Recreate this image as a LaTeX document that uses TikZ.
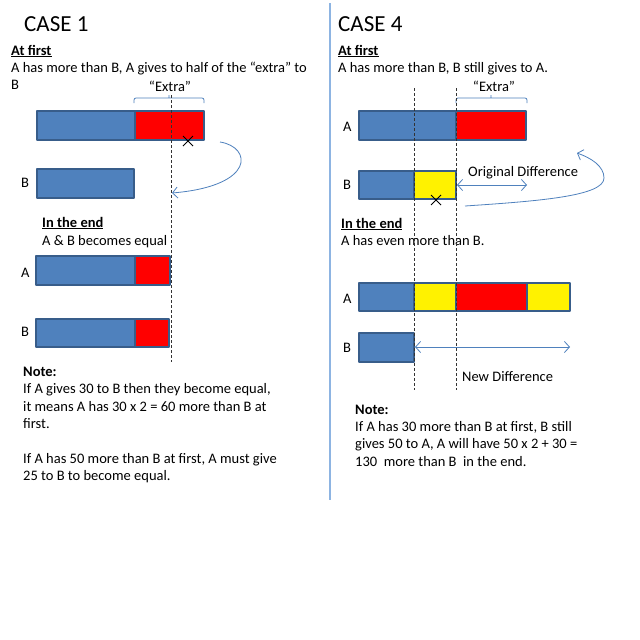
\documentclass[tikz,border=0pt]{standalone}
\usepackage{fontspec}
\setmainfont{Carlito}
\usetikzlibrary{arrows.meta}
\definecolor{barblue}{HTML}{4F81BD}
\definecolor{barline}{HTML}{385D8A}
\definecolor{divline}{HTML}{8DB4E2}
\tikzset{
  seg/.style={draw=barline,line width=2.5pt,line join=round},
  txt/.style={anchor=base west,inner sep=0pt,font=\fontsize{14.5}{17}\selectfont},
  head/.style={anchor=base west,inner sep=0pt,font=\fontsize{23}{27}\selectfont},
  guide/.style={dashed,dash pattern=on 3pt off 2pt,line width=0.9pt,black!80},
  conn/.style={draw=barblue,line width=0.8pt},
  tip/.style={-{Straight Barb[length=5pt,width=11pt]}},
  cross/.style={line width=0.8pt,black}
}
\begin{document}
\begin{tikzpicture}[x=1pt,y=-1pt]
	\useasboundingbox[fill=white] (0,0) rectangle (640,640);
	% divider
	\draw[divline,line width=1.5pt] (330,3)--(330,500);
	% CASE 1
	\node[head] (c1title) at (24,31) {CASE 1};
	\node[txt] (c1first) at (11,55) {\underline{\textbf{At first}}};
	\node[txt] (c1lineA) at (11,72) {A has more than B, A gives to half of the “extra” to};
	\node[txt] (c1lineB) at (11,89) {B};
	\node[txt,anchor=base] (c1extra) at (170,91) {“Extra”};
	\draw[conn,rounded corners=2pt] (134,103)--(134,98)--(204,98)--(204,103) (169,98)--(169,95);
	\draw[seg,fill=barblue] (37,111) rectangle (135,140);
	\draw[seg,fill=red] (135,111) rectangle (204,140);
	\node[txt] (c1B) at (21,187) {B};
	\draw[seg,fill=barblue] (37,169) rectangle (134,198);
	\node[txt] (c1end) at (42,227) {\underline{\textbf{In the end}}};
	\node[txt] (c1equal) at (42,245) {A \& B becomes equal};
	\node[txt] (c1A2) at (21,277) {A};
	\draw[seg,fill=barblue] (36,256) rectangle (135,285);
	\draw[seg,fill=red] (135,256) rectangle (170,285);
	\node[txt] (c1B2) at (21,336) {B};
	\draw[seg,fill=barblue] (36,319) rectangle (135,347);
	\draw[seg,fill=red] (135,319) rectangle (169,347);
	\draw[guide] (171,95)--(171,362);
	\draw[cross] (183,136)--(193,146) (183,146)--(193,136);
	\coordinate (giveA) at (220,142);
	\coordinate (getB) at (172,193);
	\draw[conn,tip] (giveA) .. controls (252,147) and (256,186) .. (getB);
	\node[txt] (c1note) at (23,376) {\textbf{Note:}};
	\node[txt] (c1n1) at (23,393) {If A gives 30 to B then they become equal,};
	\node[txt] (c1n2) at (23,411) {it means A has 30 x 2 = 60 more than B at};
	\node[txt] (c1n3) at (23,428) {first.};
	\node[txt] (c1n4) at (23,463) {If A has 50 more than B at first, A must give};
	\node[txt] (c1n5) at (23,480) {25 to B to become equal.};
	% CASE 4
	\node[head] (c4title) at (338,31) {CASE 4};
	\node[txt] (c4first) at (338,55) {\underline{\textbf{At first}}};
	\node[txt] (c4lineA) at (338,72) {A has more than B, B still gives to A.};
	\node[txt,anchor=base] (c4extra) at (494,91) {“Extra”};
	\draw[conn,rounded corners=2pt] (456,103)--(456,98)--(527,98)--(527,103) (491,98)--(491,95);
	\node[txt] (c4A) at (343,131) {A};
	\draw[seg,fill=barblue] (359,111) rectangle (456,140);
	\draw[seg,fill=red] (456,111) rectangle (526,140);
	\node[txt] (c4B) at (343,189) {B};
	\draw[seg,fill=barblue] (359,171) rectangle (414,199);
	\draw[seg,fill=yellow] (414,171) rectangle (456,199);
	\coordinate (od1) at (457,185);
	\coordinate (od2) at (527,185);
	\draw[conn,{Straight Barb[length=5pt,width=11pt]}-{Straight Barb[length=5pt,width=11pt]}] (od1)--(od2);
	\node[txt] (c4orig) at (468,176) {Original Difference};
	\coordinate (giveB) at (465,206);
	\coordinate (bend) at (604,178);
	\coordinate (getA) at (577,153);
	\draw[conn,tip] (giveB) .. controls (540,201) and (604,196) .. (bend) .. controls (604,166) and (591,158) .. (getA);
	\node[txt] (c4end) at (341,228) {\underline{\textbf{In the end}}};
	\node[txt] (c4more) at (341,245) {A has even more than B.};
	\node[txt] (c4A2) at (343,303) {A};
	\draw[seg,fill=barblue] (359,283) rectangle (414,311);
	\draw[seg,fill=yellow] (414,283) rectangle (456,311);
	\draw[seg,fill=red] (456,283) rectangle (527,311);
	\draw[seg,fill=yellow] (527,283) rectangle (570,311);
	\node[txt] (c4B2) at (343,352) {B};
	\draw[seg,fill=barblue] (359,333) rectangle (414,362);
	\draw[guide] (414,88)--(414,390) (456,88)--(456,390);
	\draw[cross] (431,195)--(441,205) (431,205)--(441,195);
	\coordinate (nd1) at (415,347);
	\coordinate (nd2) at (570,347);
	\draw[conn,{Straight Barb[length=5pt,width=11pt]}-{Straight Barb[length=5pt,width=11pt]}] (nd1)--(nd2);
	\node[txt] (c4new) at (462,381) {New Difference};
	\node[txt] (c4note) at (355,414) {\textbf{Note:}};
	\node[txt] (c4n1) at (355,431) {If A has 30 more than B at first, B still};
	\node[txt] (c4n2) at (355,448) {gives 50 to A, A will have 50 x 2 + 30 =};
	\node[txt] (c4n3) at (355,466) {130~ more than B~ in the end.};
\end{tikzpicture}
\end{document}
